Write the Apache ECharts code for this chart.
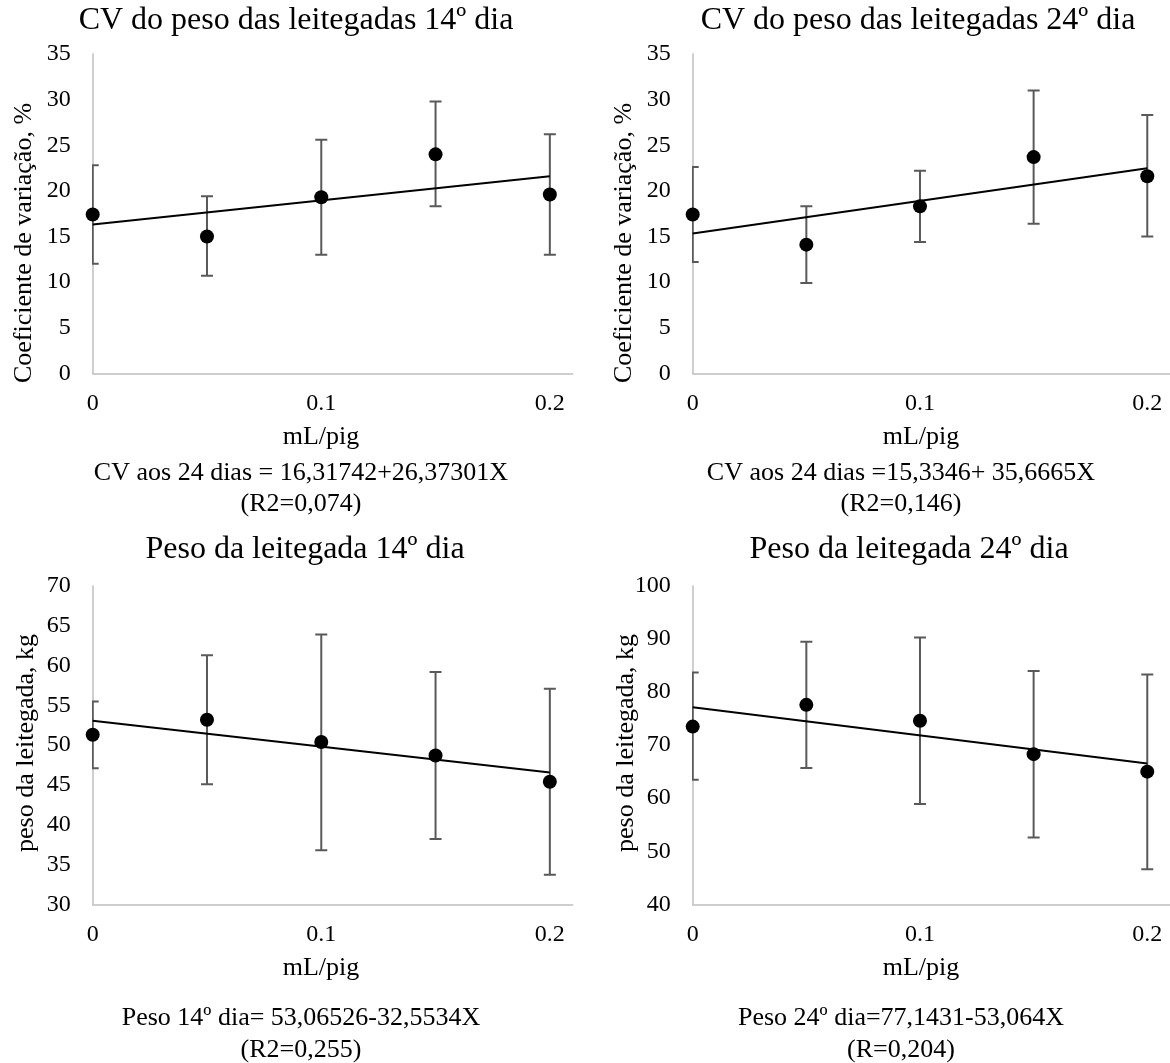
<!DOCTYPE html>
<html>
<head>
<meta charset="utf-8">
<script src="https://cdn.jsdelivr.net/npm/echarts@6/dist/echarts.min.js"></script>
<style>
  html, body { margin: 0; padding: 0; background: #fff; }
  #chart { width: 1170px; height: 1063px; }
</style>
</head>
<body>
<div id="chart"></div>
<script>
// ---- Data ----
const doses = [0, 0.05, 0.1, 0.15, 0.2];
const xTickLabels = ['0', '0.1', '0.2'];

// CV do peso das leitegadas 14º dia
const cv14Mean  = [17.4, 15.0, 19.3, 24.0, 19.6];
const cv14Upper = [22.8, 19.4, 25.6, 29.8, 26.2];
const cv14Lower = [12.0, 10.7, 13.0, 18.3, 13.0];
const cv14Trend = [16.32, 21.59];   // at x = 0 and x = 0.2

// CV do peso das leitegadas 24º dia
const cv24Mean  = [17.4, 14.1, 18.3, 23.7, 21.6];
const cv24Upper = [22.6, 18.3, 22.2, 31.0, 28.3];
const cv24Lower = [12.2, 9.9, 14.4, 16.4, 15.0];
const cv24Trend = [15.33, 22.47];

// Peso da leitegada 14º dia
const p14Mean  = [51.3, 53.2, 50.4, 48.7, 45.4];
const p14Upper = [55.5, 61.3, 63.9, 59.2, 57.1];
const p14Lower = [47.1, 45.1, 36.8, 38.2, 33.7];
const p14Trend = [53.07, 46.55];

// Peso da leitegada 24º dia
const p24Mean  = [73.5, 77.6, 74.6, 68.3, 65.0];
const p24Upper = [83.7, 89.5, 90.3, 84.0, 83.3];
const p24Lower = [63.5, 65.7, 58.9, 52.6, 46.6];
const p24Trend = [77.14, 66.53];

const trendX = [0, 0.2];

// ---- Chart ----
const FONT = '"Liberation Serif", "Times New Roman", serif';
const chart = echarts.init(document.getElementById('chart'), null, { renderer: 'canvas' });

const panels = [
  { mean: cv14Mean, up: cv14Upper, lo: cv14Lower, trend: cv14Trend, ymin: 0, ymax: 35, yint: 5,
    grid: { left: 92.7, top: 54, width: 480, height: 319.3 } },
  { mean: cv24Mean, up: cv24Upper, lo: cv24Lower, trend: cv24Trend, ymin: 0, ymax: 35, yint: 5,
    grid: { left: 692.7, top: 54, width: 480, height: 319.3 } },
  { mean: p14Mean, up: p14Upper, lo: p14Lower, trend: p14Trend, ymin: 30, ymax: 70, yint: 5,
    grid: { left: 92.7, top: 586, width: 480, height: 318.3 } },
  { mean: p24Mean, up: p24Upper, lo: p24Lower, trend: p24Trend, ymin: 40, ymax: 100, yint: 10,
    grid: { left: 692.7, top: 586, width: 480, height: 318.3 } }
];

const AXIS_COLOR = '#bfbfbf';
const ERR_COLOR = '#595959';

const grids = [], xAxes = [], yAxes = [], series = [];
panels.forEach((p, i) => {
  grids.push(Object.assign({ containLabel: false }, p.grid));
  xAxes.push({
    type: 'value', gridIndex: i, min: 0, max: 0.21, interval: 0.1,
    axisLine: { show: true, lineStyle: { color: AXIS_COLOR, width: 1.5 } },
    axisTick: { show: false }, splitLine: { show: false },
    axisLabel: {
      color: '#000', fontFamily: FONT, fontSize: 24, margin: 18, showMaxLabel: false,
      formatter: v => {
        const idx = Math.round(v * 10);
        return (Math.abs(v * 10 - idx) < 1e-6 && idx >= 0 && idx < xTickLabels.length) ? xTickLabels[idx] : '';
      }
    }
  });
  yAxes.push({
    type: 'value', gridIndex: i, min: p.ymin, max: p.ymax, interval: p.yint,
    axisLine: { show: true, lineStyle: { color: AXIS_COLOR, width: 1.5 } },
    axisTick: { show: false }, splitLine: { show: false },
    axisLabel: { color: '#000', fontFamily: FONT, fontSize: 24, margin: 22, padding: [8, 0, 0, 0] }
  });
  series.push({
    type: 'custom', xAxisIndex: i, yAxisIndex: i, clip: true, z: 2,
    data: doses.map((d, k) => [d, p.lo[k], p.up[k]]),
    encode: { x: 0, y: [1, 2] },
    renderItem: function (params, api) {
      const x = api.value(0);
      const hi = api.coord([x, api.value(2)]);
      const lo = api.coord([x, api.value(1)]);
      const w = 6;
      const st = { stroke: ERR_COLOR, lineWidth: 2 };
      return {
        type: 'group',
        children: [
          { type: 'line', shape: { x1: hi[0], y1: hi[1], x2: lo[0], y2: lo[1] }, style: st },
          { type: 'line', shape: { x1: hi[0] - w, y1: hi[1], x2: hi[0] + w, y2: hi[1] }, style: st },
          { type: 'line', shape: { x1: lo[0] - w, y1: lo[1], x2: lo[0] + w, y2: lo[1] }, style: st }
        ]
      };
    }
  });
  series.push({
    type: 'line', xAxisIndex: i, yAxisIndex: i, z: 3, symbol: 'none', silent: true,
    data: trendX.map((x, k) => [x, p.trend[k]]),
    lineStyle: { color: '#000', width: 2 }
  });
  series.push({
    type: 'scatter', xAxisIndex: i, yAxisIndex: i, z: 4, symbol: 'circle', symbolSize: 14,
    data: doses.map((d, k) => [d, p.mean[k]]),
    itemStyle: { color: '#000', opacity: 1 }
  });
});

function txt(text, x, y, size, rot) {
  return {
    type: 'text', x: x, y: y, rotation: rot || 0, silent: true,
    style: { text: text, fill: '#000', font: size + 'px ' + FONT, textAlign: 'center', textVerticalAlign: 'middle' }
  };
}

const graphics = [
  txt('CV do peso das leitegadas 14º dia', 296, 21, 32),
  txt('CV do peso das leitegadas 24º dia', 918, 21, 32),
  txt('Peso da leitegada 14º dia', 305, 550, 32),
  txt('Peso da leitegada 24º dia', 909, 550, 32),
  txt('Coeficiente de variação, %', 24, 243, 26, Math.PI / 2),
  txt('Coeficiente de variação, %', 624, 243, 26, Math.PI / 2),
  txt('peso da leitegada, kg', 26, 743, 26, Math.PI / 2),
  txt('peso da leitegada, kg', 626, 743, 26, Math.PI / 2),
  txt('mL/pig', 321, 437, 26),
  txt('mL/pig', 921, 437, 26),
  txt('mL/pig', 321, 968, 26),
  txt('mL/pig', 921, 968, 26),
  txt('CV aos 24 dias = 16,31742+26,37301X', 301, 473, 26),
  txt('(R2=0,074)', 301, 504, 26),
  txt('CV aos 24 dias =15,3346+ 35,6665X', 901, 473, 26),
  txt('(R2=0,146)', 901, 504, 26),
  txt('Peso 14º dia= 53,06526-32,5534X', 301, 1018, 26),
  txt('(R2=0,255)', 301, 1050, 26),
  txt('Peso 24º dia=77,1431-53,064X', 901, 1018, 26),
  txt('(R=0,204)', 901, 1050, 26)
];

chart.setOption({
  animation: false,
  backgroundColor: '#fff',
  grid: grids,
  xAxis: xAxes,
  yAxis: yAxes,
  series: series,
  graphic: graphics
});
</script>
</body>
</html>
